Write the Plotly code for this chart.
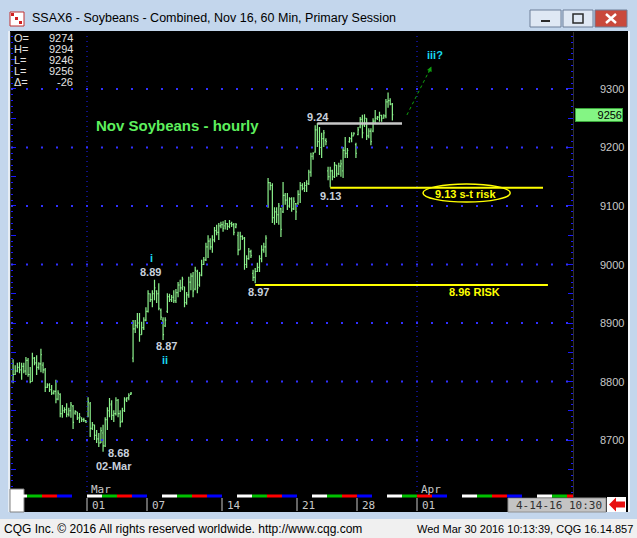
import plotly.graph_objects as go

# ---------------- data ----------------
session_days = ["2016-02-23", "2016-02-24", "2016-02-25", "2016-02-26", "2016-02-29",
                "2016-03-01", "2016-03-02", "2016-03-03", "2016-03-04", "2016-03-07",
                "2016-03-08", "2016-03-09", "2016-03-10", "2016-03-11", "2016-03-14",
                "2016-03-15", "2016-03-16", "2016-03-17", "2016-03-18", "2016-03-21",
                "2016-03-22", "2016-03-23", "2016-03-24", "2016-03-28", "2016-03-29",
                "2016-03-30"]
future_days = ["2016-03-31", "2016-04-01", "2016-04-04", "2016-04-05", "2016-04-06",
               "2016-04-07", "2016-04-08", "2016-04-11", "2016-04-12", "2016-04-13",
               "2016-04-14", "2016-04-15"]
BARS_PER_DAY = 7

opens = [
    8800, 8812, 8818, 8824, 8820, 8826, 8818,
    8836, 8812, 8800, 8840, 8832, 8824, 8830,
    8828, 8820, 8790, 8794, 8786, 8780, 8783,
    8770, 8778, 8745, 8750, 8752, 8744, 8750,
    8758, 8746, 8748, 8738, 8738, 8735, 8733,
    8740, 8762, 8720, 8726, 8708, 8702, 8695,
    8712, 8690, 8735, 8750, 8762, 8742, 8745,
    8768, 8745, 8732, 8750, 8768, 8772, 8778,
    8840, 8890, 8895, 8900, 8880, 8892, 8905,
    8920, 8950, 8940, 8950, 8955, 8950, 8922,
    8905, 8895, 8920, 8945, 8940, 8944, 8938,
    8952, 8965, 8960, 8962, 8935, 8948, 8970,
    8980, 8958, 8988, 8965, 8982, 9000, 9008,
    9030, 9040, 9030, 9042, 9058, 9055, 9066,
    9068, 9066, 9070, 9065, 9070, 9068, 9064,
    9050, 9025, 9048, 9045, 9000, 9010, 9022,
    8985, 8978, 8988, 8995, 9010, 9025, 9030,
    9100, 9140, 9135, 9080, 9090, 9085, 9095,
    9090, 9118, 9110, 9100, 9112, 9095, 9104,
    9105, 9120, 9135, 9130, 9135, 9138, 9158,
    9185, 9192, 9230, 9210, 9200, 9215, 9212,
    9160, 9150, 9160, 9150, 9170, 9155, 9168,
    9160, 9195, 9190, 9210, 9215, 9220, 9205,
    9222, 9235, 9248, 9238, 9250, 9220, 9228,
    9228, 9245, 9250, 9252, 9255, 9250, 9254,
    9278, 9280, 9274]
highs = [
    8838, 8828, 8832, 8833, 8832, 8832, 8842,
    8840, 8825, 8849, 8842, 8845, 8833, 8856,
    8833, 8823, 8797, 8797, 8794, 8785, 8803,
    8785, 8780, 8760, 8756, 8763, 8755, 8765,
    8760, 8751, 8748, 8746, 8739, 8738, 8734,
    8773, 8765, 8731, 8726, 8717, 8712, 8722,
    8726, 8739, 8756, 8772, 8768, 8751, 8773,
    8770, 8751, 8755, 8773, 8773, 8780, 8782,
    8905, 8905, 8917, 8917, 8902, 8910, 8927,
    8956, 8951, 8956, 8974, 8956, 8968, 8925,
    8910, 8910, 8951, 8950, 8948, 8956, 8958,
    8970, 8974, 8979, 8962, 8953, 8979, 8985,
    8987, 8996, 8991, 8987, 9008, 9013, 9037,
    9050, 9045, 9050, 9064, 9068, 9071, 9073,
    9074, 9076, 9071, 9076, 9073, 9071, 9071,
    9056, 9056, 9050, 9047, 9016, 9028, 9025,
    8991, 8994, 9003, 9016, 9033, 9037, 9050,
    9148, 9141, 9139, 9098, 9098, 9105, 9097,
    9141, 9122, 9122, 9115, 9115, 9115, 9105,
    9127, 9141, 9139, 9141, 9144, 9162, 9191,
    9192, 9238, 9242, 9235, 9225, 9230, 9216,
    9167, 9167, 9162, 9175, 9170, 9174, 9179,
    9201, 9218, 9199, 9218, 9226, 9226, 9208,
    9235, 9252, 9256, 9257, 9250, 9233, 9233,
    9250, 9264, 9254, 9261, 9256, 9257, 9283,
    9294, 9284, 9276]
lows = [
    8797, 8811, 8816, 8814, 8803, 8814, 8811,
    8808, 8797, 8800, 8828, 8811, 8820, 8816,
    8814, 8782, 8789, 8782, 8777, 8778, 8763,
    8768, 8739, 8738, 8746, 8739, 8740, 8738,
    8719, 8743, 8734, 8729, 8731, 8731, 8729,
    8739, 8705, 8717, 8700, 8695, 8688, 8695,
    8680, 8688, 8717, 8739, 8734, 8731, 8742,
    8739, 8722, 8730, 8748, 8765, 8768, 8777,
    8833, 8883, 8891, 8868, 8880, 8888, 8903,
    8918, 8936, 8927, 8939, 8934, 8922, 8905,
    8871, 8893, 8917, 8936, 8936, 8934, 8934,
    8944, 8953, 8956, 8927, 8931, 8943, 8956,
    8944, 8956, 8951, 8962, 8980, 8999, 9006,
    9011, 9025, 9020, 9038, 9050, 9042, 9062,
    9056, 9060, 9059, 9062, 9064, 9050, 9062,
    9016, 9025, 9042, 8991, 8994, 9008, 9011,
    8972, 8968, 8987, 8987, 9004, 9020, 9013,
    9097, 9127, 9071, 9068, 9071, 9068, 9047,
    9088, 9102, 9093, 9097, 9090, 9093, 9076,
    9102, 9105, 9127, 9124, 9124, 9136, 9150,
    9179, 9191, 9201, 9187, 9182, 9201, 9204,
    9144, 9132, 9144, 9148, 9150, 9153, 9150,
    9148, 9182, 9182, 9208, 9209, 9221, 9182,
    9221, 9233, 9216, 9235, 9213, 9216, 9204,
    9226, 9242, 9247, 9244, 9244, 9249, 9250,
    9268, 9272, 9246]
closes = [
    8812, 8818, 8824, 8820, 8826, 8818, 8836,
    8812, 8800, 8840, 8832, 8824, 8830, 8846,
    8820, 8790, 8794, 8786, 8780, 8783, 8770,
    8780, 8745, 8750, 8752, 8744, 8750, 8760,
    8730, 8749, 8738, 8740, 8735, 8734, 8731,
    8765, 8720, 8726, 8708, 8702, 8695, 8716,
    8690, 8735, 8750, 8760, 8742, 8745, 8768,
    8745, 8730, 8750, 8770, 8772, 8776, 8780,
    8890, 8896, 8900, 8880, 8892, 8905, 8920,
    8950, 8940, 8950, 8960, 8950, 8925, 8910,
    8880, 8905, 8945, 8940, 8944, 8938, 8952,
    8965, 8960, 8975, 8935, 8948, 8970, 8980,
    8955, 8990, 8960, 8982, 9000, 9008, 9030,
    9040, 9030, 9042, 9058, 9055, 9066, 9068,
    9062, 9070, 9065, 9070, 9068, 9055, 9068,
    9025, 9048, 9045, 9000, 9010, 9022, 9015,
    8978, 8988, 8995, 9010, 9025, 9030, 9045,
    9140, 9135, 9080, 9090, 9085, 9100, 9060,
    9118, 9110, 9100, 9112, 9095, 9108, 9090,
    9120, 9135, 9130, 9135, 9138, 9158, 9185,
    9190, 9230, 9210, 9200, 9215, 9225, 9210,
    9150, 9160, 9150, 9170, 9155, 9168, 9172,
    9195, 9190, 9195, 9215, 9220, 9224, 9190,
    9230, 9248, 9225, 9250, 9220, 9228, 9210,
    9245, 9250, 9252, 9255, 9250, 9254, 9278,
    9280, 9274, 9256]

price_labels = [8700, 8800, 8900, 9000, 9100, 9200, 9300]
last_price = 9256
tick_days = ["2016-03-01", "2016-03-07", "2016-03-14", "2016-03-21", "2016-03-28", "2016-04-01"]
tick_labels = ["01", "07", "14", "21", "28", "01"]
month_days = ["2016-03-01", "2016-04-01"]
month_names = ["Mar", "Apr"]

ohlc_names = ["O=", "H=", "L=", "L=", "\u0394="]
ohlc_values = ["9274", "9294", "9246", "9256", "-26"]

st_risk_level = 9131
risk_level = 8965
high_level = 9241

wave_labels = ["i", "ii", "iii?"]
point_labels = ["8.89", "8.87", "8.68", "02-Mar", "8.97", "9.24", "9.13"]

strip_colors = ["#ffffff", "#00c000", "#ff0000", "#0000ff", "#000000"]

# ---------------- helpers ----------------
W, H = 637, 538
all_days = session_days + future_days


def day_start(day):
    return all_days.index(day) * BARS_PER_DAY - 0.5


def px(x):
    return x / W


def py(y):
    return 1 - y / H


x_bars = list(range(len(opens)))
X_RANGE = [-0.967, 261.3]
Y_RANGE = [8602.6, 9397.4]

fig = go.Figure()
fig.add_trace(go.Ohlc(
    x=x_bars, open=opens, high=highs, low=lows, close=closes,
    increasing=dict(line=dict(color="#8cf28c", width=1.2)),
    decreasing=dict(line=dict(color="#8cf28c", width=1.2)),
    tickwidth=0.45, hoverinfo="skip", showlegend=False))

shapes = []
# window frame pieces
shapes.append(dict(type="rect", xref="paper", yref="paper", x0=px(10), x1=px(628), y0=py(512), y1=py(31),
                   fillcolor="#000000", line=dict(width=0), layer="below"))
shapes.append(dict(type="rect", xref="paper", yref="paper", x0=0, x1=1, y0=0, y1=py(519),
                   fillcolor="#f0f0f0", line=dict(width=0), layer="below"))
shapes.append(dict(type="rect", xref="paper", yref="paper", x0=px(8), x1=px(10), y0=py(512), y1=py(31),
                   fillcolor="#e6edf5", line=dict(width=0), layer="below"))
shapes.append(dict(type="rect", xref="paper", yref="paper", x0=px(628), x1=px(630), y0=py(512), y1=py(31),
                   fillcolor="#f4f7fb", line=dict(width=0), layer="below"))
# bottom-left white box
shapes.append(dict(type="rect", xref="paper", yref="paper", x0=px(10), x1=px(24), y0=py(512), y1=py(489),
                   fillcolor="#ffffff", line=dict(color="#808080", width=1)))
# bottom-right date box
shapes.append(dict(type="rect", xref="paper", yref="paper", x0=px(508), x1=px(606), y0=py(512), y1=py(498),
                   fillcolor="#c4c4c4", line=dict(color="#909090", width=1)))
shapes.append(dict(type="rect", xref="paper", yref="paper", x0=px(607), x1=px(626), y0=py(512), y1=py(497),
                   fillcolor="#ffffff", line=dict(width=0)))
shapes.append(dict(type="path", xref="paper", yref="paper",
                   path=(f"M {px(609)} {py(504.5)} L {px(616)} {py(497.5)} L {px(616)} {py(501.5)} "
                         f"L {px(625)} {py(501.5)} L {px(625)} {py(507.5)} L {px(616)} {py(507.5)} "
                         f"L {px(616)} {py(511.5)} Z"),
                   fillcolor="#e81010", line=dict(width=0)))
# window buttons
for x0, x1, col in [(530, 561, "#dfe8f4"), (563, 593, "#dfe8f4"), (595, 627, "#c9493c")]:
    shapes.append(dict(type="rect", xref="paper", yref="paper", x0=px(x0), x1=px(x1), y0=py(27), y1=py(10),
                       fillcolor=col, line=dict(color="#6d7f99", width=1)))
shapes.append(dict(type="rect", xref="paper", yref="paper", x0=px(541), x1=px(550), y0=py(22), y1=py(20),
                   fillcolor="#2a2a2a", line=dict(width=0)))
shapes.append(dict(type="rect", xref="paper", yref="paper", x0=px(573), x1=px(583), y0=py(23), y1=py(14),
                   fillcolor="rgba(0,0,0,0)", line=dict(color="#2a2a2a", width=1.5)))
shapes.append(dict(type="line", xref="paper", yref="paper", x0=px(606), x1=px(616), y0=py(14), y1=py(23),
                   line=dict(color="#ffffff", width=2.5)))
shapes.append(dict(type="line", xref="paper", yref="paper", x0=px(606), x1=px(616), y0=py(23), y1=py(14),
                   line=dict(color="#ffffff", width=2.5)))
# title icon
shapes.append(dict(type="rect", xref="paper", yref="paper", x0=px(10), x1=px(24), y0=py(26), y1=py(12),
                   fillcolor="#ffffff", line=dict(color="#c03030", width=1)))
for (a, b) in [(11, 13), (15, 17), (19, 21)]:
    shapes.append(dict(type="rect", xref="paper", yref="paper", x0=px(a), x1=px(a + 3), y0=py(b + 3), y1=py(b),
                       fillcolor="#d02020", line=dict(width=0)))

# horizontal dotted grid (every 100)
for p in price_labels:
    shapes.append(dict(type="line", xref="x domain", yref="y", x0=0, x1=1, y0=p, y1=p,
                       line=dict(color="#3030ff", width=2, dash="2px,13px")))
# vertical dotted month lines
for d in month_days:
    xs = day_start(d)
    shapes.append(dict(type="line", xref="x", yref="y domain", x0=xs, x1=xs, y0=0, y1=1,
                       line=dict(color="#2020ff", width=1, dash="1px,4px")))
# colour strip per day
for i, d in enumerate(all_days):
    xs = day_start(d)
    shapes.append(dict(type="rect", xref="x", yref="paper", x0=xs, x1=xs + BARS_PER_DAY,
                       y0=py(497.5), y1=py(494.5), fillcolor=strip_colors[i % 5], line=dict(width=0)))
# date tick marks
for d in tick_days:
    xs = day_start(d)
    shapes.append(dict(type="line", xref="x", yref="paper", x0=xs, x1=xs, y0=py(511), y1=py(498),
                       line=dict(color="#c8c8c8", width=1)))

# analysis lines
hi_start = max(range(20 * 7, 21 * 7), key=lambda k: highs[k])
st_start = min(range(21 * 7, 22 * 7), key=lambda k: lows[k])
rk_start = min(range(16 * 7, 17 * 7), key=lambda k: lows[k])
shapes.append(dict(type="line", xref="x", yref="y", x0=hi_start, x1=181.5, y0=high_level, y1=high_level,
                   line=dict(color="#c8c8c8", width=2.5)))
shapes.append(dict(type="line", xref="x", yref="y", x0=st_start, x1=247.3, y0=st_risk_level, y1=st_risk_level,
                   line=dict(color="#ffff00", width=2)))
shapes.append(dict(type="line", xref="x", yref="y", x0=rk_start, x1=249.6, y0=risk_level, y1=risk_level,
                   line=dict(color="#ffff00", width=2)))
shapes.append(dict(type="circle", xref="x", yref="y", x0=191.3, x1=232.0, y0=9106.8, y1=9137.6,
                   line=dict(color="#ffff00", width=1.5)))
shapes.append(dict(type="line", xref="x", yref="y", x0=183.8, x1=194.6, y0=9255.6, y1=9334,
                   line=dict(color="#10a010", width=1, dash="dot")))

annotations = []
LBL = dict(family="Liberation Sans, Arial", size=11, color="#c8d0dc")
CY = dict(family="Liberation Sans, Arial", size=11, color="#18d8f0")


def ann(text, x, y, font, **kw):
    d = dict(text=text, x=x, y=y, xref="x", yref="y", showarrow=False, font=font,
             xanchor="center", yanchor="middle")
    d.update(kw)
    annotations.append(d)


ann("<b>Nov Soybeans - hourly</b>", 76.7, 9238,
    dict(family="Liberation Sans, Arial", size=15, color="#5ef05e"))
ann("<b>" + wave_labels[0] + "</b>", 64.4, 9011, CY)
ann("<b>" + wave_labels[1] + "</b>", 70.9, 8836, CY)
ann("<b>" + wave_labels[2] + "</b>", 196.9, 9358, CY)
for t, x, y in zip(point_labels,
                   [63.9, 71.4, 49.0, 47.3, 114.3, 142.3, 147.9],
                   [8987, 8861, 8678, 8656, 8953, 9252, 9117]):
    ann("<b>" + t + "</b>", x, y, LBL)
ann("<b>9.13 s-t risk</b>", 211.0, 9121,
    dict(family="Liberation Sans, Arial", size=11, color="#ffff00"))
ann("<b>8.96 RISK</b>", 215.1, 8953,
    dict(family="Liberation Sans, Arial", size=11, color="#ffff00"))
# arrow head
annotations.append(dict(x=195.2, y=9338.5, xref="x", yref="y", ax=193.6, ay=9325, axref="x", ayref="y",
                        showarrow=True, arrowhead=2, arrowsize=1, arrowwidth=1, arrowcolor="#10a010",
                        text=""))

# price axis labels
for p in price_labels:
    annotations.append(dict(text=str(p), x=px(626), y=p, xref="paper", yref="y", xanchor="right",
                            yanchor="middle", showarrow=False,
                            font=dict(family="Liberation Sans, Arial", size=11, color="#c8c8c8")))
annotations.append(dict(text=str(last_price), x=px(575), y=last_price, xref="paper", yref="y",
                        xanchor="left", yanchor="middle", showarrow=False, width=46, align="right",
                        bgcolor="#84f584", bordercolor="#3aa63a", borderwidth=1, borderpad=0,
                        font=dict(family="Liberation Sans, Arial", size=11, color="#000000")))

# OHLC panel
for k, (n, v) in enumerate(zip(ohlc_names, ohlc_values)):
    yy = py(38 + k * 11)
    annotations.append(dict(text=n, x=px(12), y=yy, xref="paper", yref="paper", xanchor="left",
                            yanchor="middle", showarrow=False,
                            font=dict(family="Liberation Sans, Arial", size=11, color="#e4e4e4")))
    annotations.append(dict(text=v, x=px(75), y=yy, xref="paper", yref="paper", xanchor="right",
                            yanchor="middle", showarrow=False,
                            font=dict(family="Liberation Sans, Arial", size=11, color="#e4e4e4")))

# date labels
for d, t in zip(tick_days, tick_labels):
    annotations.append(dict(text=t, x=day_start(d) + 1.2, y=py(505), xref="x", yref="paper",
                            xanchor="left", yanchor="middle", showarrow=False,
                            font=dict(family="DejaVu Sans Mono, monospace", size=11, color="#c8c8c8")))
for d, t in zip(month_days, month_names):
    annotations.append(dict(text=t, x=day_start(d) + 0.8, y=py(489), xref="x", yref="paper",
                            xanchor="left", yanchor="middle", showarrow=False,
                            font=dict(family="DejaVu Sans Mono, monospace", size=11, color="#c8c8c8")))
annotations.append(dict(text="4-14-16 10:30", x=px(604), y=py(505), xref="paper", yref="paper",
                        xanchor="right", yanchor="middle", showarrow=False,
                        font=dict(family="DejaVu Sans Mono, monospace", size=11, color="#303030")))

# title & footer
annotations.append(dict(text="SSAX6 - Soybeans - Combined, Nov 16, 60 Min, Primary Session",
                        x=px(30), y=py(18), xref="paper", yref="paper", xanchor="left", yanchor="middle",
                        showarrow=False, font=dict(family="Liberation Sans, Arial", size=12.5, color="#000000")))
annotations.append(dict(text="CQG Inc. \u00a9 2016 All rights reserved worldwide. http://www.cqg.com",
                        x=px(2), y=py(529), xref="paper", yref="paper", xanchor="left", yanchor="middle",
                        showarrow=False, font=dict(family="Liberation Sans, Arial", size=12, color="#000000")))
annotations.append(dict(text="Wed Mar 30 2016 10:13:39, CQG 16.14.857",
                        x=px(635), y=py(529), xref="paper", yref="paper", xanchor="right", yanchor="middle",
                        showarrow=False, font=dict(family="Liberation Sans, Arial", size=11, color="#000000")))

fig.update_layout(
    width=W, height=H, autosize=False,
    margin=dict(l=0, r=0, t=0, b=0, pad=0),
    paper_bgcolor="#c3d6ec", plot_bgcolor="#000000",
    showlegend=False, shapes=shapes, annotations=annotations,
    xaxis=dict(domain=[px(11), px(573)], range=X_RANGE, showticklabels=False, ticks="",
               showgrid=False, zeroline=False, showline=False, fixedrange=True,
               rangeslider=dict(visible=False)),
    yaxis=dict(domain=[py(497), py(32)], range=Y_RANGE, side="right", showticklabels=False,
               tickmode="array", tickvals=list(range(8650, 9400, 50)),
               ticks="inside", ticklen=5, tickcolor="#1a1aff", tickwidth=1,
               minor=dict(ticks="inside", ticklen=2, tickcolor="#1a1aff", dtick=10, tick0=0, showgrid=False),
               showgrid=False, zeroline=False, showline=True, linecolor="#303030", mirror="ticks",
               fixedrange=True),
)

fig.write_html("out.html", include_plotlyjs=True, full_html=True,
               config={"displayModeBar": False, "staticPlot": True},
               post_script="document.body.style.margin='0';document.body.style.overflow='hidden';")
